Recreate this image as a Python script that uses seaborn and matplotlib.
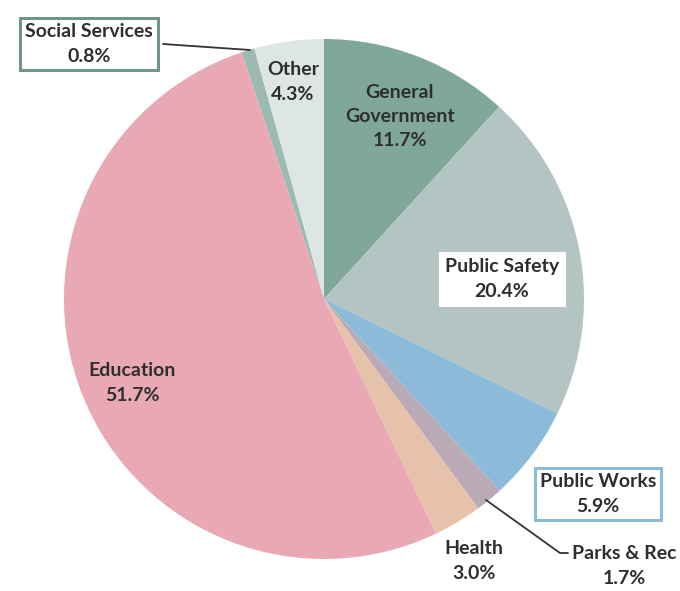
import matplotlib
matplotlib.use("Agg")
import matplotlib.pyplot as plt
import seaborn as sns

categories = ["General\nGovernment", "Public Safety", "Public Works", "Parks & Rec",
              "Health", "Education", "Social Services", "Other"]
values = [11.7, 20.4, 5.9, 1.7, 3.0, 51.7, 0.8, 4.3]
pct_labels = ["11.7%", "20.4%", "5.9%", "1.7%", "3.0%", "51.7%", "0.8%", "4.3%"]
colors = ["#80a898", "#b3c5c3", "#8cbad9", "#b9aab6", "#e7c2aa", "#e8a9b5", "#9cbab2", "#dde6e4"]

sns.set_theme(style="white")
plt.rcParams['font.family'] = ['Lato', 'DejaVu Sans']

fig = plt.figure(figsize=(6.8, 5.91), dpi=100)
cx, cy, R = 324, 299, 260
ax = fig.add_axes([(cx - R) / 680, (591 - cy - R) / 591, 2 * R / 680, 2 * R / 591])
ax.pie(values, colors=colors, startangle=90, counterclock=False, radius=1,
       wedgeprops=dict(linewidth=0))
ax.set_xlim(-1, 1)
ax.set_ylim(-1, 1)
ax.set_aspect('equal')
ax.axis('off')


def d(px, py):
    return ((px - cx) / R, (cy - py) / R)


tc = "#2e2e2e"
fs = 14

def lab(i, px, py, box=None, ls=1.55):
    x, y = d(px, py)
    kw = dict(ha='center', va='center', fontsize=fs, color=tc, fontweight='bold',
              linespacing=ls, clip_on=False)
    if box:
        kw['bbox'] = dict(boxstyle='square,pad=0.25', fc='white', ec=box, lw=2.2)
    ax.text(x, y, categories[i] + "\n" + pct_labels[i], **kw)

lab(0, 400, 117, ls=1.5)
lab(1, 502, 279, box="white")
lab(2, 598, 494, box="#8cbad9")
lab(3, 624, 566)
lab(4, 474, 561)
lab(5, 132, 383)
lab(6, 89, 44, box="#6f9686")
lab(7, 293, 82)

# leader lines
x0, y0 = d(163, 44); x1, y1 = d(250, 50)
ax.plot([x0, x1], [y0, y1], color="#333333", lw=1.3, clip_on=False)
xa, ya = d(486, 500); xb, yb = d(560, 553); xc, yc = d(568, 553)
ax.plot([xa, xb, xc], [ya, yb, yc], color="#333333", lw=1.3, clip_on=False)

fig.savefig("out.png", dpi=100, facecolor="white")
